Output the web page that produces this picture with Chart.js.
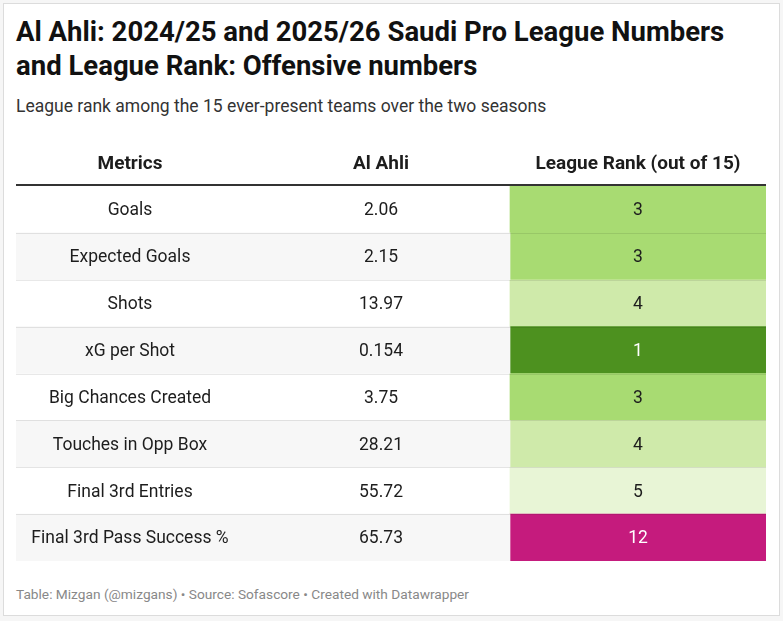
<!DOCTYPE html>
<html>
<head>
<meta charset="utf-8">
<script src="https://cdn.jsdelivr.net/npm/chart.js@4"></script>
<style>
  html, body { margin: 0; padding: 0; background: #f6f6f6; }
  body { width: 783px; height: 621px; position: relative; overflow: hidden; font-family: Roboto, sans-serif; }
  .box { position: absolute; left: 3px; top: 3px; width: 775px; height: 611px; background: #fff; border: 1px solid #dcdcdc; }
  h1 { position: absolute; left: 16px; top: 15px; margin: 0; width: 750px; font-size: 27.5px; line-height: 34px; font-weight: 700; color: #111; }
  .sub { position: absolute; left: 16px; top: 96px; margin: 0; font-size: 17.5px; color: #333; }
  .foot { position: absolute; left: 16px; top: 586px; margin: 0; font-size: 13.7px; color: #888; }
  .wrap { position: absolute; left: 0; top: 0; width: 783px; height: 621px; }
</style>
</head>
<body>
<div class="box"></div>
<h1>Al Ahli: 2024/25 and 2025/26 Saudi Pro League Numbers and League Rank: Offensive numbers</h1>
<p class="sub">League rank among the 15 ever-present teams over the two seasons</p>
<p class="foot">Table: Mizgan (@mizgans) • Source: Sofascore • Created with Datawrapper</p>
<div class="wrap"><canvas id="tbl" width="783" height="621"></canvas></div>
<script>
// table data
const headers = ['Metrics', 'Al Ahli', 'League Rank (out of 15)'];
const metrics = ['Goals', 'Expected Goals', 'Shots', 'xG per Shot', 'Big Chances Created',
                 'Touches in Opp Box', 'Final 3rd Entries', 'Final 3rd Pass Success %'];
const values = ['2.06', '2.15', '13.97', '0.154', '3.75', '28.21', '55.72', '65.73'];
const ranks = [3, 3, 4, 1, 3, 4, 5, 12];

// layout (x units = pixels from table left edge)
const TABLE_W = 750;
const COL_CENTERS = [114, 365, 622];
const RANK_LEFT = 494;

const rankColor = r => ({
    1: '#4d911f', 2: '#7cbf43', 3: '#a8db72', 4: '#cfeaaa', 5: '#e8f5d6',
    12: '#c51b7d'
}[r] || '#f7f7f7');
const rankText = r => (r <= 1 || r >= 10) ? '#ffffff' : '#1d1d1d';

const tablePlugin = {
    id: 'tableText',
    afterDatasetsDraw(chart) {
        const { ctx, chartArea, scales: { x, y } } = chart;
        ctx.save();
        // row separators
        ctx.strokeStyle = 'rgba(0,0,0,0.09)';
        ctx.lineWidth = 1;
        for (let i = 0; i < metrics.length - 1; i++) {
            const yy = Math.round((y.getPixelForValue(i) + y.getPixelForValue(i + 1)) / 2) + 0.5;
            ctx.beginPath();
            ctx.moveTo(chartArea.left, yy);
            ctx.lineTo(chartArea.right, yy);
            ctx.stroke();
        }
        // header rule
        ctx.strokeStyle = '#333';
        ctx.lineWidth = 2;
        ctx.beginPath();
        ctx.moveTo(chartArea.left, chartArea.top - 1);
        ctx.lineTo(chartArea.right, chartArea.top - 1);
        ctx.stroke();

        ctx.textAlign = 'center';
        ctx.textBaseline = 'middle';
        // headers
        ctx.font = 'bold 19px Roboto';
        ctx.fillStyle = '#1d1d1d';
        headers.forEach((h, c) => ctx.fillText(h, x.getPixelForValue(COL_CENTERS[c]), chartArea.top - 22));
        // cells
        ctx.font = '17.5px Roboto';
        metrics.forEach((m, i) => {
            const yy = y.getPixelForValue(i) + 1.5;
            ctx.fillStyle = '#1d1d1d';
            ctx.fillText(m, x.getPixelForValue(COL_CENTERS[0]), yy);
            ctx.fillText(values[i], x.getPixelForValue(COL_CENTERS[1]), yy);
            ctx.fillStyle = rankText(ranks[i]);
            ctx.fillText(String(ranks[i]), x.getPixelForValue(COL_CENTERS[2]), yy);
        });
        ctx.restore();
    }
};

new Chart(document.getElementById('tbl'), {
    type: 'bar',
    data: {
        labels: metrics,
        datasets: [
            {
                // striped row backgrounds
                data: metrics.map((m, i) => i % 2 ? [0, RANK_LEFT] : null),
                backgroundColor: '#f7f7f7',
                barPercentage: 1,
                categoryPercentage: 1
            },
            {
                // rank heat cells
                data: ranks.map(() => [RANK_LEFT, TABLE_W]),
                backgroundColor: ranks.map(rankColor),
                barPercentage: 1,
                categoryPercentage: 1
            }
        ]
    },
    options: {
        indexAxis: 'y',
        responsive: false,
        animation: false,
        grouped: false,
        layout: { padding: { left: 16, right: 17, top: 186, bottom: 60 } },
        scales: {
            x: { display: false, min: 0, max: TABLE_W },
            y: { display: false }
        },
        plugins: {
            legend: { display: false },
            tooltip: { enabled: false }
        }
    },
    plugins: [tablePlugin]
});
</script>
</body>
</html>
